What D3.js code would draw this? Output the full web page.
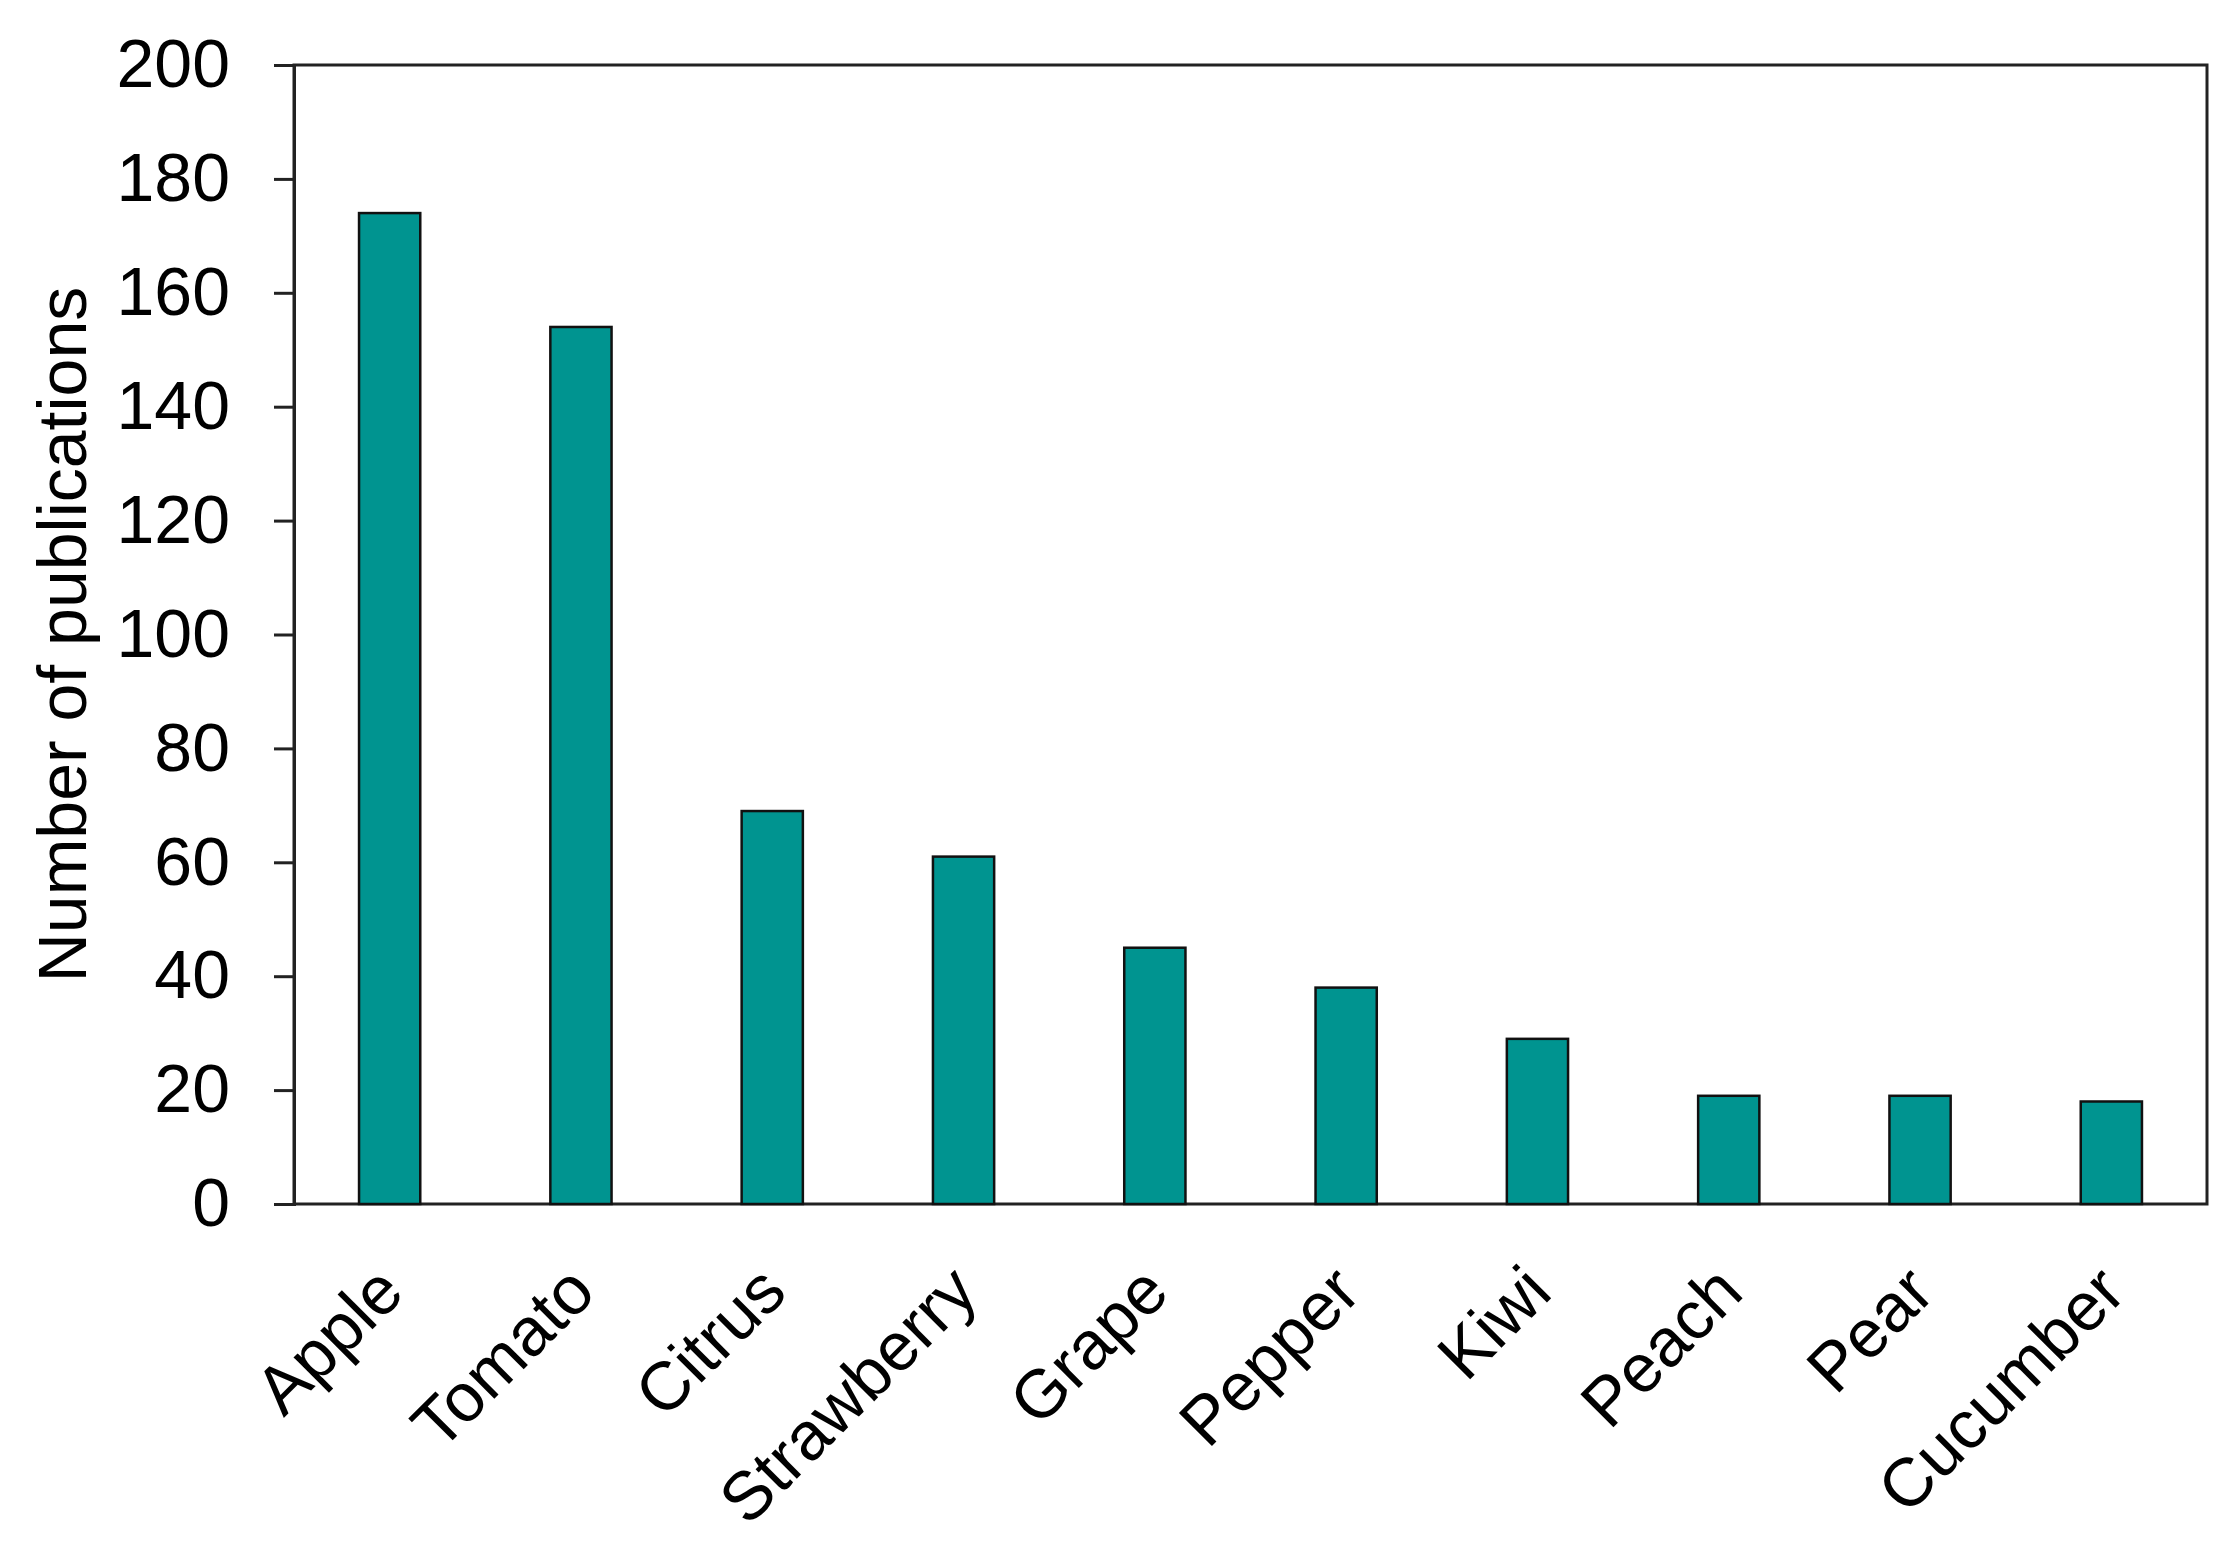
<!DOCTYPE html>
<html>
<head>
<meta charset="utf-8">
<script src="https://cdn.jsdelivr.net/npm/d3@7"></script>
<style>
  body { margin: 0; background: #fff; }
  text { font-family: "Liberation Sans", Arial, sans-serif; fill: #000; }
</style>
</head>
<body>
<svg id="chart" width="2233" height="1542"></svg>
<script>
const fruits = ['Apple', 'Tomato', 'Citrus', 'Strawberry', 'Grape', 'Pepper', 'Kiwi', 'Peach', 'Pear', 'Cucumber'];
const publications = [174, 154, 69, 61, 45, 38, 29, 19, 19, 18];
const yTicks = [0, 20, 40, 60, 80, 100, 120, 140, 160, 180, 200];

const data = fruits.map((name, i) => ({ name, count: publications[i] }));

const plotLeft = 294, plotRight = 2207, plotTop = 65, plotBottom = 1204;

const svg = d3.select('#chart');

const xScale = d3.scaleBand()
  .domain(fruits)
  .range([plotLeft, plotRight])
  .paddingInner(0.68)
  .paddingOuter(0.34);

const yScale = d3.scaleLinear()
  .domain([0, 200])
  .range([plotBottom, plotTop]);

// frame
svg.append('rect')
  .attr('x', plotLeft)
  .attr('y', plotTop)
  .attr('width', plotRight - plotLeft)
  .attr('height', plotBottom - plotTop)
  .attr('fill', 'none')
  .attr('stroke', '#222')
  .attr('stroke-width', 3);

// bars
svg.selectAll('.bar')
  .data(data)
  .enter()
  .append('rect')
  .classed('bar', true)
  .attr('x', d => xScale(d.name))
  .attr('width', xScale.bandwidth())
  .attr('y', d => yScale(d.count))
  .attr('height', d => plotBottom - yScale(d.count))
  .attr('fill', '#009490')
  .attr('stroke', '#111')
  .attr('stroke-width', 2.5);

// y axis
const yAxis = svg.append('g')
  .attr('transform', `translate(${plotLeft},0)`)
  .call(d3.axisLeft(yScale).tickValues(yTicks).tickSize(20).tickPadding(44));
yAxis.select('.domain').attr('stroke', '#222').attr('stroke-width', 3);
yAxis.selectAll('.tick line').attr('stroke', '#222').attr('stroke-width', 3);
yAxis.selectAll('.tick text')
  .attr('font-size', 68)
  .attr('font-family', '"Liberation Sans", Arial, sans-serif')
  .attr('fill', '#000');

// x labels
svg.selectAll('.xlabel')
  .data(data)
  .enter()
  .append('text')
  .classed('xlabel', true)
  .attr('transform', d => `translate(${xScale(d.name) + xScale.bandwidth() / 2 + 17},${plotBottom + 91}) rotate(-45)`)
  .attr('text-anchor', 'end')
  .attr('font-size', 68)
  .text(d => d.name);

// y title
svg.append('text')
  .attr('transform', `translate(86,${(plotTop + plotBottom) / 2}) rotate(-90)`)
  .attr('text-anchor', 'middle')
  .attr('font-size', 68)
  .text('Number of publications');
</script>
</body>
</html>
